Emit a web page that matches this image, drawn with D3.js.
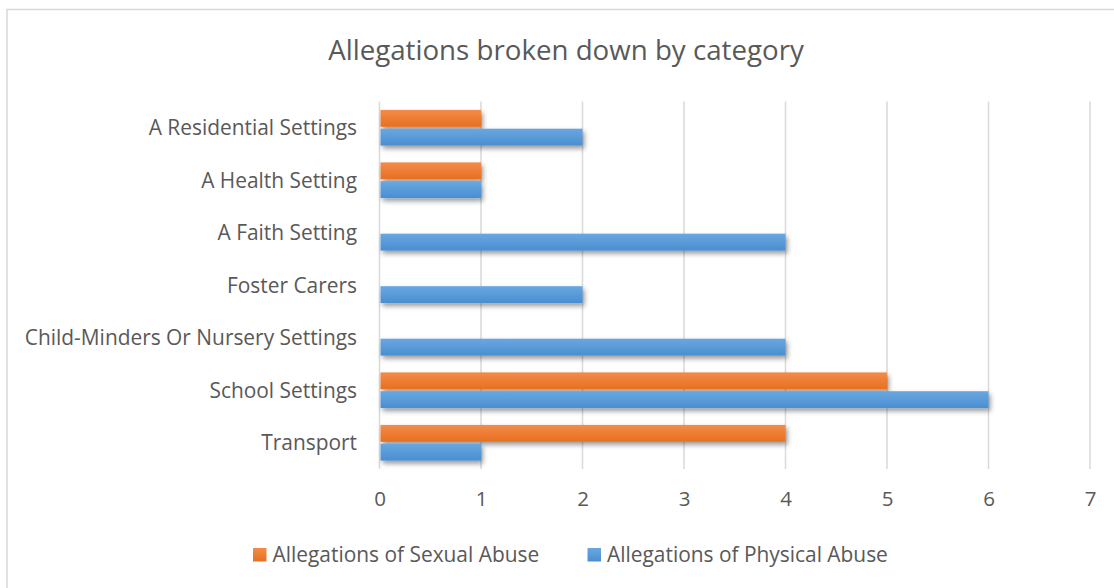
<!DOCTYPE html>
<html><head><meta charset="utf-8">
<script src="https://cdn.jsdelivr.net/npm/d3@7"></script>
<style>
html,body{margin:0;padding:0;background:#fff;}
svg{display:block;}
text{font-family:"Open Sans",sans-serif;fill:#595959;}
</style></head>
<body>
<svg id="chart" width="1114" height="588"></svg>
<script>
const categories = ["A Residential Settings","A Health Setting","A Faith Setting","Foster Carers","Child-Minders Or Nursery Settings","School Settings","Transport"];
const sexualAbuse = [1,1,0,0,0,5,4];
const physicalAbuse = [2,1,4,2,4,6,1];
const seriesNames = ["Allegations of Sexual Abuse","Allegations of Physical Abuse"];
const xTicks = [0,1,2,3,4,5,6,7];
const title = "Allegations broken down by category";

const svg = d3.select("#chart");
const W = 1114, H = 588;
const m = {left:380, right:24, top:101.5, bottom:119};

// chart border
svg.append("rect").attr("x",7).attr("y",9.5).attr("width",W+10).attr("height",H+10)
  .attr("fill","none").attr("stroke","#d9d9d9").attr("stroke-width",1.5);

const defs = svg.append("defs");
function grad(id, top, bot){
  const g = defs.append("linearGradient").attr("id",id).attr("x1",0).attr("y1",0).attr("x2",0).attr("y2",1);
  g.append("stop").attr("offset","0%").attr("stop-color",top);
  g.append("stop").attr("offset","100%").attr("stop-color",bot);
}
grad("gOrange","#f28c4a","#e86f1f");
grad("gBlue","#69a7e0","#4a8ed1");
const f = defs.append("filter").attr("id","shadow").attr("x","-5%").attr("y","-30%").attr("width","115%").attr("height","190%");
f.append("feDropShadow").attr("dx",2).attr("dy",3).attr("stdDeviation",2.4).attr("flood-color","#000").attr("flood-opacity",0.4);

const x = d3.scaleLinear().domain([0,7]).range([379.5,1090]);
const y = d3.scaleBand().domain(categories).range([m.top, 469]).paddingInner(0.32).paddingOuter(0.16);
const sub = d3.scaleBand().domain(seriesNames).range([0,y.bandwidth()]).paddingInner(0.1);

// gridlines
svg.append("g").selectAll("line").data(xTicks).join("line")
  .attr("x1",d=>x(d)).attr("x2",d=>x(d)).attr("y1",m.top).attr("y2",469)
  .attr("stroke","#d9d9d9").attr("stroke-width",1.5);

// x axis labels
const xAxis = d3.axisBottom(x).tickValues(xTicks).tickSize(0).tickPadding(0).tickFormat(d3.format("d"));
const xg = svg.append("g").attr("transform","translate(0,491)").call(xAxis);
xg.select(".domain").remove();
xg.selectAll("text").style("font-size","20.5px").attr("fill","#595959").attr("dy","0.71em");

// y axis labels
const yAxis = d3.axisLeft(y).tickSize(0).tickPadding(0);
const yg = svg.append("g").attr("transform","translate(357,0)").call(yAxis);
yg.select(".domain").remove();
yg.selectAll("text").style("font-size","20.9px").attr("fill","#595959").attr("dy","0.35em");

// bars
const data = categories.map((c,i)=>({c, vals:[sexualAbuse[i],physicalAbuse[i]]}));
const fills = ["url(#gOrange)","url(#gBlue)"];
const groups = svg.append("g").selectAll("g").data(data).join("g")
  .attr("transform",d=>`translate(0,${y(d.c)})`);
groups.selectAll("rect").data(d=>d.vals.map((v,j)=>({v,s:seriesNames[j],j})).filter(e=>e.v>0)).join("rect")
  .attr("x",x(0)+1).attr("y",e=>sub(e.s)).attr("height",sub.bandwidth())
  .attr("width",e=>x(e.v)-x(0)-1).attr("fill",e=>fills[e.j]).attr("filter","url(#shadow)");

// title
svg.append("text").attr("x",566).attr("y",60).attr("text-anchor","middle")
  .style("font-size","27.7px").text(title);

// legend
const legX = [253,587.5];
const lg = svg.append("g").selectAll("g").data(seriesNames).join("g")
  .attr("transform",(d,i)=>`translate(${legX[i]},548)`);
lg.append("rect").attr("width",13.5).attr("height",13.5).attr("fill",(d,i)=>fills[i]);
lg.append("text").attr("x",19.5).attr("y",7).attr("dy","0.35em").style("font-size","20.9px").text(d=>d);
</script>
</body></html>
